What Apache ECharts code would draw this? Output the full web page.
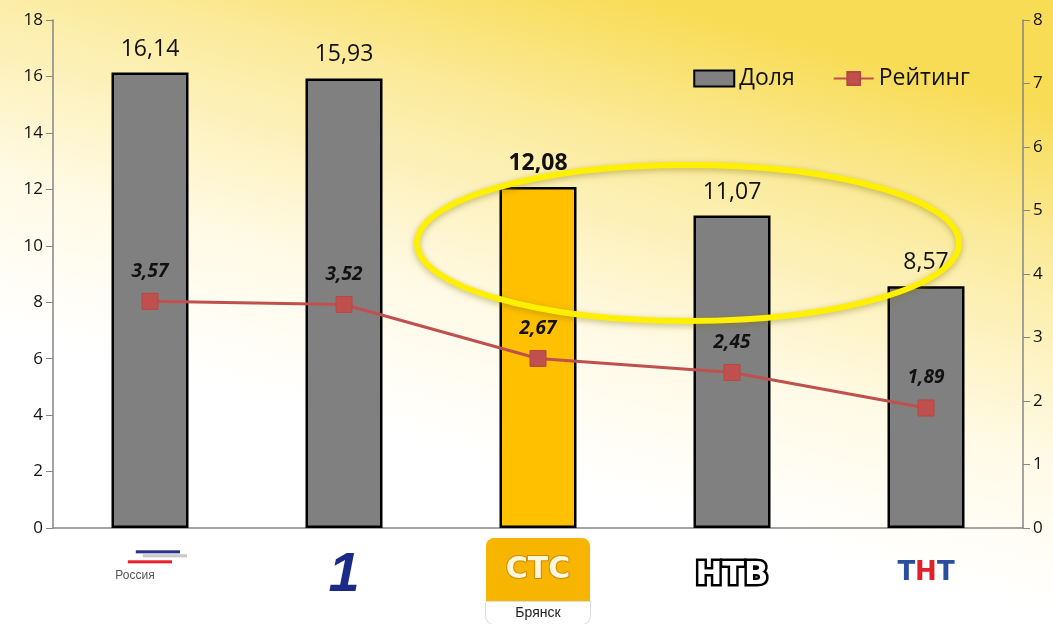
<!DOCTYPE html>
<html>
<head>
<meta charset="utf-8">
<script src="https://cdn.jsdelivr.net/npm/echarts@6/dist/echarts.min.js"></script>
<style>
  html, body { margin: 0; padding: 0; }
  #chart { width: 1053px; height: 624px; }
</style>
</head>
<body>
<div id="chart"></div>
<script>
// данные
var channels = ['Россия', 'Первый', 'СТС', 'НТВ', 'ТНТ'];
var dolya = [16.14, 15.93, 12.08, 11.07, 8.57];
var reiting = [3.57, 3.52, 2.67, 2.45, 1.89];
var highlightIndex = 2;

var FONT = '"Open Sans", "Noto Sans", sans-serif';
function comma(v) { return String(v.toFixed(2)).replace('.', ','); }

var chart = echarts.init(document.getElementById('chart'));

var barData = dolya.map(function (v, i) {
    if (i === highlightIndex) {
        return {
            value: v,
            itemStyle: { color: '#FFC000' },
            label: { fontWeight: 'bold' }
        };
    }
    return v;
});

chart.setOption({
    backgroundColor: {
        type: 'linear', x: 0.62, y: 0, x2: 0.5, y2: 0.75,
        colorStops: [
            { offset: 0, color: '#F8DC55' },
            { offset: 0.3, color: '#FBEB9E' },
            { offset: 0.7, color: '#FFFAE6' },
            { offset: 1, color: '#FFFFFF' }
        ]
    },
    textStyle: { fontFamily: FONT },
    grid: { left: 53, right: 30, top: 20, bottom: 96, outerBoundsMode: 'none' },
    legend: {
        right: 78, top: 62,
        itemGap: 38,
        itemWidth: 40, itemHeight: 16,
        textStyle: { fontSize: 23, color: '#111', fontFamily: FONT },
        data: [
            { name: 'Доля', icon: 'rect', itemStyle: { color: '#808080', borderColor: '#000', borderWidth: 2 } },
            { name: 'Рейтинг' }
        ]
    },
    xAxis: {
        type: 'category',
        data: channels,
        axisTick: { show: false },
        axisLine: { lineStyle: { color: '#868686', width: 1.5 } },
        axisLabel: {
            margin: 10,
            formatter: function (v) {
                if (v === 'Россия') return '{rw|━━━━}\n{rb|━━━━}\n{rr|━━━━}\n{r|Россия}';
                if (v === 'Первый') return '{one|1}';
                if (v === 'СТС') return '{sts|СТС}\n{br|Брянск}';
                if (v === 'НТВ') return '{ntv|НТВ}';
                if (v === 'ТНТ') return '{t|Т}{n|Н}{t|Т}';
                return v;
            },
            rich: {
                rw: { fontSize: 18, color: '#C8C8C8', lineHeight: 10, padding: [28, 0, 0, 30] },
                rb: { fontSize: 18, color: '#2B2F8E', lineHeight: 10, padding: [0, 0, 0, 15] },
                rr: { fontSize: 18, color: '#E8222A', lineHeight: 10 },
                r: { fontSize: 12, color: '#555', fontFamily: 'Liberation Sans', lineHeight: 16, padding: [0, 30, 0, 0] },
                one: { fontSize: 56, color: '#1B2A86', fontStyle: 'italic', fontWeight: 'bold', fontFamily: 'Liberation Sans', padding: [10, 0, 0, 0] },
                sts: {
                    fontSize: 30, fontWeight: 'bold', color: '#FFF6DC', fontFamily: 'DejaVu Sans',
                    backgroundColor: '#F7B500', width: 104, height: 64, align: 'center',
                    borderRadius: [8, 8, 0, 0], textBorderColor: '#C98A00', textBorderWidth: 2
                },
                br: {
                    fontSize: 14, color: '#222', fontFamily: 'Liberation Sans',
                    backgroundColor: '#FFFFFF', width: 104, height: 22, align: 'center',
                    borderRadius: [0, 0, 8, 8], borderColor: '#DDD', borderWidth: 1
                },
                ntv: {
                    fontSize: 32, fontWeight: 900, color: '#FFFFFF', fontFamily: 'DejaVu Sans',
                    textBorderColor: '#000', textBorderWidth: 5, padding: [22, 0, 0, 0]
                },
                t: { fontSize: 26, fontWeight: 'bold', color: '#2A4E9E', fontFamily: 'DejaVu Sans', padding: [22, 0, 0, 0] },
                n: { fontSize: 26, fontWeight: 'bold', color: '#E0202A', fontFamily: 'DejaVu Sans', padding: [22, 0, 0, 0] }
            }
        }
    },
    yAxis: [
        {
            type: 'value', min: 0, max: 18, interval: 2,
            axisLine: { show: true, lineStyle: { color: '#868686', width: 1.5 } },
            axisTick: { show: true, length: 7, lineStyle: { color: '#868686' } },
            splitLine: { show: false },
            axisLabel: { fontSize: 17, color: '#111', margin: 10 }
        },
        {
            type: 'value', min: 0, max: 8, interval: 1,
            axisLine: { show: true, lineStyle: { color: '#868686', width: 1.5 } },
            axisTick: { show: true, length: 7, lineStyle: { color: '#868686' } },
            splitLine: { show: false },
            axisLabel: { fontSize: 17, color: '#111', margin: 10 }
        }
    ],
    series: [
        {
            name: 'Доля',
            type: 'bar',
            barWidth: 77,
            data: barData,
            itemStyle: { color: '#808080', borderColor: '#000', borderWidth: 2.5 },
            label: {
                show: true, position: 'top', distance: 12,
                fontSize: 23, color: '#111', fontFamily: FONT,
                formatter: function (p) { return comma(p.value); }
            },
            z: 2
        },
        {
            name: 'Рейтинг',
            type: 'line',
            yAxisIndex: 1,
            data: reiting,
            symbol: 'rect',
            symbolSize: 16,
            lineStyle: { color: '#C0504D', width: 3 },
            itemStyle: { color: '#C0504D', borderColor: '#B84744', borderWidth: 1 },
            label: {
                show: true, position: 'top', distance: 12,
                fontSize: 19, fontWeight: 'bold', fontStyle: 'italic', color: '#111', fontFamily: FONT,
                formatter: function (p) { return comma(p.value); }
            },
            z: 3
        }
    ],
    graphic: [
        {
            type: 'ellipse',
            shape: { cx: 688, cy: 243, rx: 271, ry: 78 },
            style: {
                fill: null, stroke: '#FFF000', lineWidth: 6,
                shadowBlur: 6, shadowColor: 'rgba(120,110,0,0.45)', shadowOffsetY: 2
            },
            z: 100
        }
    ]
});
</script>
</body>
</html>
